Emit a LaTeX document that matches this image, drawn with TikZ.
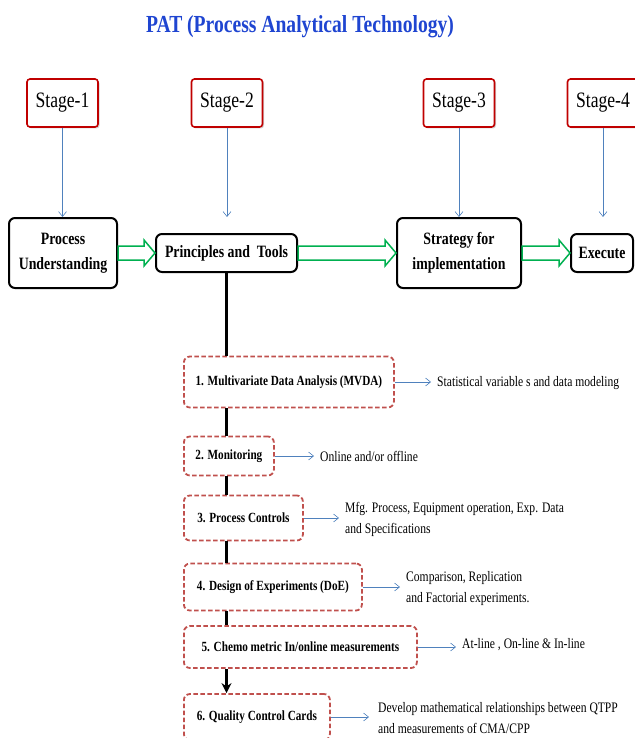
\documentclass[tikz,border=0pt]{standalone}
\usepackage{fontspec}
\setmainfont{Liberation Serif}[FakeStretch=0.8]
\usetikzlibrary{arrows.meta,shadows,calc}

\definecolor{titleblue}{HTML}{1F45D1}
\definecolor{stagered}{HTML}{C00000}
\definecolor{dashred}{HTML}{C0504D}
\definecolor{thinblue}{HTML}{4F81BD}
\definecolor{hollowgreen}{HTML}{00B050}

\tikzset{
  tool/.style={draw=dashred, line width=1.8pt, dash pattern=on 4.5pt off 2.5pt,
               rounded corners=6pt, anchor=west, fill=white,
               font=\fontsize{14}{16}\selectfont\bfseries},
  info/.style={anchor=west, align=left, inner sep=0pt,
               font=\fontsize{14.5}{21}\selectfont},
  thin arrow/.style={draw=thinblue, line width=0.6pt, -{Straight Barb[length=5pt,width=8pt]}},
  trunk/.style={draw=black, line width=2.4pt},
  hollow/.style={draw=hollowgreen, line width=1.5pt, fill=white, line join=miter}
}

% hollow green arrow between two boxes
\newcommand{\hollowarrow}[2]{%
  \draw[hollow] let \p1=(#1.east), \p2=(#2.west) in
    (\x1,\y2-7pt) -- (\x2-11pt,\y2-7pt) -- (\x2-11pt,\y2-13pt) -- (\x2,\y2)
    -- (\x2-11pt,\y2+13pt) -- (\x2-11pt,\y2+7pt) -- (\x1,\y2+7pt) -- cycle;}

\begin{document}
\begin{tikzpicture}[x=1pt,y=-1pt]
        \useasboundingbox (0,0) rectangle (634,738);

        \node[font=\fontsize{24.5}{26}\selectfont\bfseries, text=titleblue] (title) at (300,27) {PAT (Process Analytical Technology)};

        \begin{scope}[every node/.style={draw=stagered, line width=1.6pt, rounded corners=3pt, fill=white,
                      minimum width=71pt, minimum height=48pt, font=\fontsize{22}{24}\selectfont,
                      drop shadow={opacity=0.35, shadow xshift=1.5pt, shadow yshift=-1.5pt}}]
            \node (S1) at (62.5,103) {Stage-1};
            \node (S2) at (227,103) {Stage-2};
            \node (S3) at (459,103) {Stage-3};
            \node (S4) at (603,103) {Stage-4};
        \end{scope}

        \begin{scope}[every node/.style={draw, line width=2pt, rounded corners=6pt, align=center,
                      font=\fontsize{17.3}{25}\selectfont\bfseries}]
            \node[minimum width=108pt, minimum height=70pt] (PU) at (63,253) {Process\\Understanding};
            \node[minimum width=141pt, minimum height=38pt] (PT) at (226.5,253) {Principles and~ Tools};
            \node[minimum width=124pt, minimum height=70pt] (SI) at (459,253) {Strategy for\\implementation};
            \node[minimum width=62pt, minimum height=38pt] (EX) at (602,253) {Execute};
        \end{scope}

        \node[tool, minimum width=210pt, minimum height=51pt] (T1) at (183,382) {1. Multivariate Data Analysis (MVDA)};
        \node[tool, minimum width=90pt, minimum height=39pt] (T2) at (183,456) {2. Monitoring};
        \node[tool, minimum width=119pt, minimum height=45pt] (T3) at (183,518) {3. Process Controls};
        \node[tool, minimum width=178pt, minimum height=47pt] (T4) at (183,587) {4. Design of Experiments (DoE)};
        \node[tool, minimum width=233pt, minimum height=42pt] (T5) at (183,647) {5. Chemo metric In/online measurements};
        \node[tool, minimum width=146pt, minimum height=46pt] (T6) at (183,717) {6. Quality Control Cards};

        \node[info] (I1) at (437,383) {Statistical variable s and data modeling};
        \node[info] (I2) at (320,456) {Online and/or offline};
        \node[info] (I3) at (345,519) {Mfg. Process, Equipment operation, Exp. Data\\and Specifications};
        \node[info] (I4) at (406,589) {Comparison, Replication\\and Factorial experiments.};
        \node[info] (I5) at (462,645) {At-line , On-line \& In-line};
        \node[info] (I6) at (378,718) {Develop mathematical relationships between QTPP\\and measurements of CMA/CPP};

        % stages down to the boxes
        \draw[thin arrow] (S1.south) -- (S1 |- PU.north);
        \draw[thin arrow] (S2.south) -- (S2 |- PU.north);
        \draw[thin arrow] (S3.south) -- (S3 |- PU.north);
        \draw[thin arrow] (S4.south) -- (S4 |- PU.north);

        \hollowarrow{PU}{PT}
        \hollowarrow{PT}{SI}
        \hollowarrow{SI}{EX}

        % tools
        \draw[trunk] (PT.south) -- (PT.south |- T1.north);
        \draw[trunk] (PT.south |- T1.south) -- (PT.south |- T2.north);
        \draw[trunk] (PT.south |- T2.south) -- (PT.south |- T3.north);
        \draw[trunk] (PT.south |- T3.south) -- (PT.south |- T4.north);
        \draw[trunk] (PT.south |- T4.south) -- (PT.south |- T5.north);
        \draw[trunk, -{Stealth[length=10pt,width=10pt]}] (PT.south |- T5.south) -- (PT.south |- T6.north);

        \draw[thin arrow, shorten >=6pt] (T1.east) -- (T1.east -| I1.west);
        \draw[thin arrow, shorten >=6pt] (T2.east) -- (T2.east -| I2.west);
        \draw[thin arrow, shorten >=6pt] (T3.east) -- (T3.east -| I3.west);
        \draw[thin arrow, shorten >=6pt] (T4.east) -- (T4.east -| I4.west);
        \draw[thin arrow, shorten >=6pt] (T5.east) -- (T5.east -| I5.west);
        \draw[thin arrow, shorten >=9pt] (T6.east) -- (T6.east -| I6.west);
\end{tikzpicture}
\end{document}
